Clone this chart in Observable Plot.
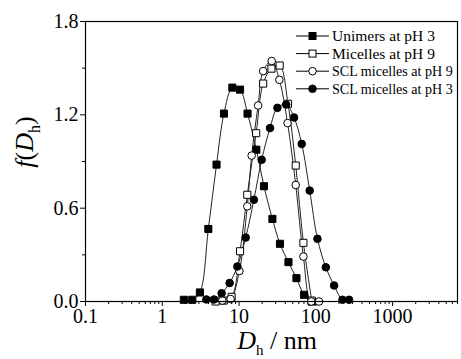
<!DOCTYPE html>
<html>
<head>
<meta charset="utf-8">
<script src="https://cdn.jsdelivr.net/npm/d3@7"></script>
<script src="https://cdn.jsdelivr.net/npm/@observablehq/plot@0.6"></script>
<style>
  html, body { margin: 0; padding: 0; background: #fff; }
  #chart { width: 461px; height: 359px; overflow: hidden; }
</style>
</head>
<body>
<div id="chart"></div>
<script>
// ---- data ----
const unimersD = [1.91, 2.46, 3.09, 3.98, 5.09, 6.36, 8.18, 10.3, 12.9, 16.8, 21.1, 27.2, 34.1, 44.0, 55.9, 70.2, 88.0];
const unimersF = [0.011, 0.011, 0.058, 0.466, 0.880, 1.208, 1.375, 1.362, 1.208, 0.976, 0.741, 0.531, 0.371, 0.253, 0.150, 0.043, 0.0];

const micellesD = [4.95, 6.3, 8.0, 10.3, 12.8, 16.7, 20.6, 26.4, 33.8, 43.4, 54.7, 68.9, 88.4];
const micellesF = [0.0, 0.006, 0.03, 0.323, 0.686, 1.082, 1.401, 1.497, 1.517, 1.271, 0.874, 0.377, 0.006];

const sclPH9D = [6.05, 7.76, 10.1, 12.8, 14.6, 17.7, 20.6, 26.6, 33.5, 42.8, 54.7, 68.9, 87.1, 110];
const sclPH9F = [0.006, 0.016, 0.196, 0.612, 0.938, 1.260, 1.481, 1.546, 1.425, 1.147, 0.749, 0.289, 0.0, 0.0];

const sclPH3D = [3.75, 4.71, 5.93, 7.54, 9.50, 12.2, 15.6, 19.7, 25.3, 31.6, 41.1, 52.0, 65.5, 83.2, 105, 135, 173, 222, 271];
const sclPH3F = [0.013, 0.013, 0.053, 0.119, 0.225, 0.411, 0.654, 0.911, 1.115, 1.245, 1.266, 1.183, 1.013, 0.713, 0.403, 0.220, 0.103, 0.011, 0.011];

const seriesNames = ["Unimers at pH 3", "Micelles at pH 9", "SCL micelles at pH 9", "SCL micelles at pH 3"];
const xTicks = [0.1, 1, 10, 100, 1000];
const xTickLabels = ["0.1", "1", "10", "100", "1000"];
const yTicks = [0, 0.6, 1.2, 1.8];
const yTickLabels = ["0.0", "0.6", "1.2", "1.8"];
const yMinorTicks = [0.3, 0.9, 1.5];

// ---- build tables ----
const mk = (D, F) => D.map((d, i) => ({d, f: F[i]}));
const series = [
  {name: seriesNames[0], data: mk(unimersD, unimersF), symbol: "square", fill: "black", r: 4},
  {name: seriesNames[1], data: mk(micellesD, micellesF), symbol: "square", fill: "white", r: 4},
  {name: seriesNames[2], data: mk(sclPH9D, sclPH9F), symbol: "circle", fill: "white", r: 3.8},
  {name: seriesNames[3], data: mk(sclPH3D, sclPH3F), symbol: "circle", fill: "black", r: 3.8}
];
const xMinor = [];
for (let e = -1; e <= 3; e++) for (let m = 2; m <= 9; m++) { const v = m * Math.pow(10, e); if (v <= 7000) xMinor.push(v); }

const seriesMarks = [];
for (const s of series) {
  seriesMarks.push(Plot.line(s.data, {x: "d", y: "f", curve: "catmull-rom", stroke: "#222", strokeWidth: 1}));
}
for (const s of series) {
  seriesMarks.push(Plot.dot(s.data, {x: "d", y: "f", symbol: () => s.symbol, r: s.r, fill: s.fill, stroke: "black", strokeWidth: 1}));
}

const font = "'Liberation Serif', 'Times New Roman', serif";
const svg = Plot.plot({
  width: 461, height: 359,
  marginLeft: 85, marginRight: 4, marginTop: 21, marginBottom: 58,
  style: {fontFamily: font, fontSize: "20px", color: "black", background: "white"},
  x: {type: "log", domain: [0.1, 7000]},
  y: {domain: [0, 1.8]},
  symbol: {type: "identity"},
  marks: [
    Plot.axisX({ticks: xMinor, tickSize: 3, tickFormat: () => "", label: null}),
    Plot.axisX({ticks: xTicks, tickSize: 5, tickPadding: 2, tickFormat: (d) => xTickLabels[xTicks.indexOf(d)], label: null}),
    Plot.axisY({ticks: yMinorTicks, tickSize: 3, tickFormat: () => "", label: null}),
    Plot.axisY({ticks: yTicks, tickSize: 5, tickPadding: 2, tickFormat: d => yTickLabels[yTicks.indexOf(d)], label: null}),
    ...seriesMarks,
    Plot.frame({stroke: "black", strokeWidth: 1.2})
  ]
});
document.getElementById("chart").appendChild(svg);

const root = d3.select(svg);
// x axis label: D_h / nm
const xl = root.append("text").attr("x", 277).attr("y", 349).attr("text-anchor", "middle")
  .attr("font-family", font).attr("font-size", 26).attr("fill", "black");
xl.append("tspan").attr("font-style", "italic").text("D");
xl.append("tspan").attr("dy", 6).attr("font-size", 15).text("h");
xl.append("tspan").attr("dy", -6).text(" / nm");

// y axis label: f(D_h)
const yl = root.append("text").attr("transform", "translate(33,142) rotate(-90)").attr("text-anchor", "middle")
  .attr("font-family", font).attr("font-size", 26).attr("fill", "black");
yl.append("tspan").attr("font-style", "italic").text("f");
yl.append("tspan").text("(");
yl.append("tspan").attr("font-style", "italic").text("D");
yl.append("tspan").attr("dy", 7).attr("font-size", 16).text("h");
yl.append("tspan").attr("dy", -7).text(")");

// legend
const lg = root.append("g").attr("font-family", font).attr("text-anchor", "start");
series.forEach((s, i) => {
  const y = 36 + i * 17.6;
  lg.append("line").attr("x1", 296).attr("x2", 329).attr("y1", y).attr("y2", y).attr("stroke", "black").attr("stroke-width", 1);
  if (s.symbol === "square") {
    lg.append("rect").attr("x", 312.5 - 3.5).attr("y", y - 3.5).attr("width", 7).attr("height", 7)
      .attr("fill", s.fill).attr("stroke", "black");
  } else {
    lg.append("circle").attr("cx", 312.5).attr("cy", y).attr("r", 3.8).attr("fill", s.fill).attr("stroke", "black");
  }
  const fs = 15.5;
  const t = lg.append("text").attr("x", 332).attr("y", y).attr("dy", "0.35em").attr("font-size", fs)
    .attr("text-anchor", "start").attr("fill", "black").text(s.name);
  const maxW = 121;
  const w = t.node().getComputedTextLength();
  if (w > maxW) t.attr("font-size", Math.floor(fs * maxW / w * 10) / 10);
});
</script>
</body>
</html>
